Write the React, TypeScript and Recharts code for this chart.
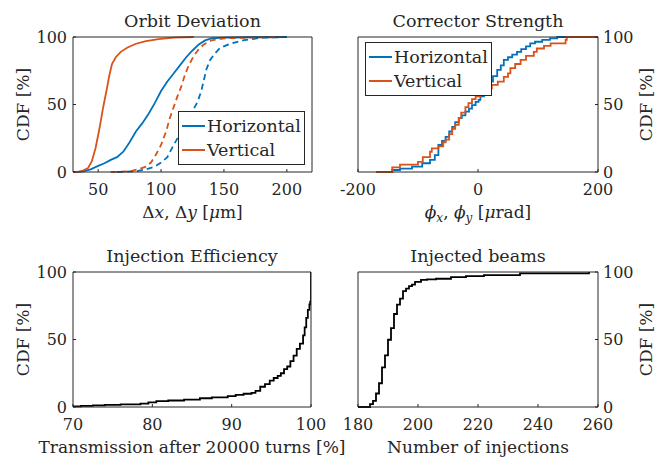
import { LineChart, Line, XAxis, YAxis, Legend, Label } from "recharts";
import type { ReactNode } from "react";

const W = 655;
const H = 462;
const FONT = "'DejaVu Serif', serif";
const INK = "#262626";
const BLUE = "#0072BD";
const ORANGE = "#D95319";

// Orbit deviation [µm] — solid set
const orbitHx = [33, 38, 44, 50, 55, 60, 65, 70, 75, 80, 85, 90, 95, 100, 105, 110, 115, 120, 125, 130, 135, 140, 150, 170, 200];
const orbitHcdf = [0, 0.5, 2, 4.5, 6.5, 9, 11, 15, 22, 30, 36, 43, 51, 60, 67, 73, 79, 85, 90, 94.5, 97.5, 99, 99.5, 99.8, 100];
const orbitVx = [30, 35, 38, 42, 45, 48, 51, 54, 57, 59, 61, 64, 68, 73, 80, 88, 98, 110, 126];
const orbitVcdf = [0, 0.3, 1, 3, 8, 18, 32, 48, 62, 72, 80, 85, 89, 92, 95, 97, 98.5, 99.5, 100];
// Orbit deviation [µm] — dashed set
const orbitHx2 = [65, 80, 88, 95, 100, 105, 110, 115, 120, 125, 129, 132, 134, 136, 139, 143, 147, 155, 165, 180, 200];
const orbitHcdf2 = [0, 0.5, 2, 4, 7, 11, 20, 28, 36, 45, 52, 60, 68, 76, 83, 88, 92, 95, 97.5, 99.5, 100];
const orbitVx2 = [60, 75, 82, 88, 92, 96, 100, 104, 107, 110, 113, 116, 119, 122, 126, 130, 134, 140, 150, 170, 195];
const orbitVcdf2 = [0, 0.5, 2, 4, 7, 13, 20, 30, 40, 48, 56, 63, 72, 79, 86, 91, 94.5, 97.5, 99, 99.5, 100];

// Corrector strength [µrad]
const corrHx = [-170, -143, -130, -110, -93, -80, -72, -66, -60, -54, -48, -43, -38, -32, -27, -21, -15, -10, -4, 1, 4, 10, 15, 20, 25, 32, 38, 43, 50, 57, 65, 72, 80, 87, 95, 107, 120, 132, 200];
const corrHcdf = [0, 1.5, 2.5, 4, 6.5, 9, 12.5, 20, 23, 26, 30, 33.5, 37, 40, 42, 44.7, 47, 49.6, 52, 53.5, 56, 59, 63, 67, 71, 75.6, 79, 83, 85, 87, 89, 91, 93, 95.3, 96.5, 97.8, 99, 100, 100];
const corrVx = [-170, -143, -130, -100, -92, -80, -77, -66, -58, -54, -48, -43, -38, -32, -28, -21, -16, -10, -4, 4, 12, 23, 33, 43, 50, 54, 62, 71, 80, 93, 98, 110, 121, 146, 148, 200];
const corrVcdf = [0, 3.5, 5.5, 7.5, 11, 15, 17.5, 19, 22, 24, 28, 32, 35, 40, 44, 48, 51, 54, 56, 59.5, 62, 64.5, 67, 70.5, 73, 77, 80, 83, 86, 89, 91.5, 93.5, 95.3, 97.8, 100, 100];

// Transmission after 20000 turns [%]
const transX = [70, 71, 72.5, 74, 76, 78.5, 79.5, 80.5, 82, 84, 86, 87.5, 89.5, 90.5, 91.5, 92.5, 93, 93.6, 94.2, 94.8, 95.3, 95.8, 96.2, 96.6, 97, 97.4, 97.8, 98.2, 98.6, 99, 99.2, 99.4, 99.6, 99.8, 99.9, 100];
const transCdf = [0.5, 0.8, 1.2, 1.6, 2, 2.5, 3.5, 4.3, 4.8, 5.5, 6.5, 7.2, 8, 9, 9.8, 10.5, 12, 15, 17, 19.5, 21.5, 23, 25, 28, 30, 34, 38, 43, 47, 53, 59, 66, 72, 76, 78, 100];

// Number of injections
const injN = [180, 184, 185, 186, 187, 188, 189, 190, 191, 192, 193, 194, 195, 196, 197, 198, 199, 201, 203, 206, 211, 216, 222, 234, 257];
const injCdf = [0, 2.2, 4.5, 10, 17.6, 29.3, 38.2, 49.8, 58.5, 68.9, 75.8, 80.3, 85.8, 87.7, 89.5, 90.7, 92.7, 94.2, 94.6, 95, 96.2, 97, 97.7, 99, 100];

const cdfTicks = [0, 50, 100];

type Pt = { x: number; y: number };
const zip = (xs: number[], ys: number[]): Pt[] => xs.map((x, i) => ({ x, y: ys[i] }));

type Box = { left: number; top: number; right: number; bottom: number };

const tickStyle = { fill: INK, fontSize: 16, fontFamily: FONT };
const textProps = { fill: INK, fontSize: 17, fontFamily: FONT };

// axes are given a 1px band; margins are shrunk by the same amount
const AX = 1;

function LegendBox({ payload }: any) {
  const items = (payload ?? []).filter((p: any) => p.type !== "none");
  return (
    <div
      style={{
        boxSizing: "border-box",
        width: 127,
        height: 54,
        border: `1px solid ${INK}`,
        background: "#fff",
        padding: "2px 0",
        fontFamily: FONT,
        fontSize: 17.5,
        lineHeight: "24px",
        color: INK,
        whiteSpace: "nowrap",
      }}
    >
      {items.map((p: any) => (
        <div key={p.value} style={{ display: "flex", alignItems: "center", height: 24 }}>
          <span style={{ width: 23, borderTop: `2px solid ${p.color}`, margin: "0 2px 0 3px" }} />
          <span>{p.value}</span>
        </div>
      ))}
    </div>
  );
}

type PanelProps = {
  box: Box;
  xDomain: [number, number];
  xTicks: number[];
  yRight?: boolean;
  title: string;
  xLabel: ReactNode;
  legendAt?: { left: number; top: number };
  children: ReactNode;
};

function Panel({ box, xDomain, xTicks, yRight, title, xLabel, legendAt, children }: PanelProps) {
  const cx = (box.left + box.right) / 2;
  const cy = (box.top + box.bottom) / 2;
  const yLabelX = yRight ? box.right + 54 : box.left - 44;

  const axisCommon = {
    axisLine: { stroke: INK },
    tickLine: { stroke: INK },
    tickSize: -3,
    interval: 0 as const,
  };

  return (
    <div style={{ position: "absolute", left: 0, top: 0 }}>
      <LineChart
        width={W}
        height={H}
        margin={{
          top: box.top - AX,
          left: box.left - AX,
          right: W - box.right - AX,
          bottom: H - box.bottom - AX,
        }}
      >
        <XAxis
          type="number"
          dataKey="x"
          domain={xDomain}
          ticks={xTicks}
          allowDataOverflow
          height={AX}
          orientation="bottom"
          tick={tickStyle}
          tickMargin={15}
          {...axisCommon}
        >
          <Label
            content={() => (
              <text x={cx} y={box.bottom + 46} textAnchor="middle" {...textProps}>
                {xLabel}
              </text>
            )}
          />
        </XAxis>
        <XAxis
          xAxisId="top"
          type="number"
          dataKey="x"
          domain={xDomain}
          ticks={xTicks}
          allowDataOverflow
          height={AX}
          orientation="top"
          tick={false}
          {...axisCommon}
        >
          <Label
            content={() => (
              <text x={cx} y={box.top - 10} textAnchor="middle" {...textProps} fontSize={17.5}>
                {title}
              </text>
            )}
          />
        </XAxis>
        <YAxis
          type="number"
          domain={[0, 100]}
          ticks={cdfTicks}
          width={AX}
          orientation={yRight ? "right" : "left"}
          tick={tickStyle}
          tickMargin={yRight ? 8 : 9}
          {...axisCommon}
        >
          <Label
            content={() => (
              <text
                transform={`translate(${yLabelX},${cy}) rotate(-90)`}
                textAnchor="middle"
                {...textProps}
              >
                CDF [%]
              </text>
            )}
          />
        </YAxis>
        <YAxis
          yAxisId="other"
          type="number"
          domain={[0, 100]}
          ticks={cdfTicks}
          width={AX}
          orientation={yRight ? "left" : "right"}
          tick={false}
          {...axisCommon}
        />
        {children}
        {legendAt && (
          <Legend
            layout="horizontal"
            verticalAlign="middle"
            align="center"
            wrapperStyle={{ left: legendAt.left, top: legendAt.top, width: 127, height: 54 }}
            content={<LegendBox />}
          />
        )}
      </LineChart>
    </div>
  );
}

const it = (s: string) => <tspan fontStyle="italic">{s}</tspan>;

export default function App() {
  return (
    <div style={{ position: "absolute", left: 0, top: 0, width: W, height: H, background: "#fff" }}>
      <Panel
        box={{ left: 73, top: 37, right: 312, bottom: 172 }}
        xDomain={[30, 220]}
        xTicks={[50, 100, 150, 200]}
        title="Orbit Deviation"
        xLabel={
          <>
            <tspan>Δ</tspan>
            {it("x")}
            <tspan>, Δ</tspan>
            {it("y")}
            <tspan> [</tspan>
            {it("μ")}
            <tspan>m]</tspan>
          </>
        }
        legendAt={{ left: 178, top: 111 }}
      >
        <Line data={zip(orbitHx, orbitHcdf)} dataKey="y" name="Horizontal" type="linear" stroke={BLUE} strokeWidth={1.8} dot={false} isAnimationActive={false} />
        <Line data={zip(orbitVx, orbitVcdf)} dataKey="y" name="Vertical" type="linear" stroke={ORANGE} strokeWidth={1.8} dot={false} isAnimationActive={false} />
        <Line data={zip(orbitHx2, orbitHcdf2)} dataKey="y" name="Horizontal 2" legendType="none" type="linear" stroke={BLUE} strokeWidth={1.8} strokeDasharray="6 4" dot={false} isAnimationActive={false} />
        <Line data={zip(orbitVx2, orbitVcdf2)} dataKey="y" name="Vertical 2" legendType="none" type="linear" stroke={ORANGE} strokeWidth={1.8} strokeDasharray="6 4" dot={false} isAnimationActive={false} />
      </Panel>

      <Panel
        box={{ left: 358, top: 37, right: 598, bottom: 172 }}
        xDomain={[-200, 200]}
        xTicks={[-200, 0, 200]}
        yRight
        title="Corrector Strength"
        xLabel={
          <>
            {it("ϕ")}
            <tspan fontStyle="italic" fontSize={12} dy={4}>x</tspan>
            <tspan dy={-4}>, </tspan>
            {it("ϕ")}
            <tspan fontStyle="italic" fontSize={12} dy={4}>y</tspan>
            <tspan dy={-4}> [</tspan>
            {it("μ")}
            <tspan>rad]</tspan>
          </>
        }
        legendAt={{ left: 365, top: 42 }}
      >
        <Line data={zip(corrHx, corrHcdf)} dataKey="y" name="Horizontal" type="stepAfter" stroke={BLUE} strokeWidth={1.8} dot={false} isAnimationActive={false} />
        <Line data={zip(corrVx, corrVcdf)} dataKey="y" name="Vertical" type="stepAfter" stroke={ORANGE} strokeWidth={1.8} dot={false} isAnimationActive={false} />
      </Panel>

      <Panel
        box={{ left: 73, top: 272, right: 311, bottom: 407 }}
        xDomain={[70, 100]}
        xTicks={[70, 80, 90, 100]}
        title="Injection Efficiency"
        xLabel="Transmission after 20000 turns [%]"
      >
        <Line data={zip(transX, transCdf)} dataKey="y" name="Transmission" type="stepAfter" stroke="#000" strokeWidth={1.8} dot={false} isAnimationActive={false} />
      </Panel>

      <Panel
        box={{ left: 358, top: 272, right: 598, bottom: 407 }}
        xDomain={[180, 260]}
        xTicks={[180, 200, 220, 240, 260]}
        yRight
        title="Injected beams"
        xLabel="Number of injections"
      >
        <Line data={zip(injN, injCdf)} dataKey="y" name="Injections" type="stepAfter" stroke="#000" strokeWidth={1.8} dot={false} isAnimationActive={false} />
      </Panel>
    </div>
  );
}
